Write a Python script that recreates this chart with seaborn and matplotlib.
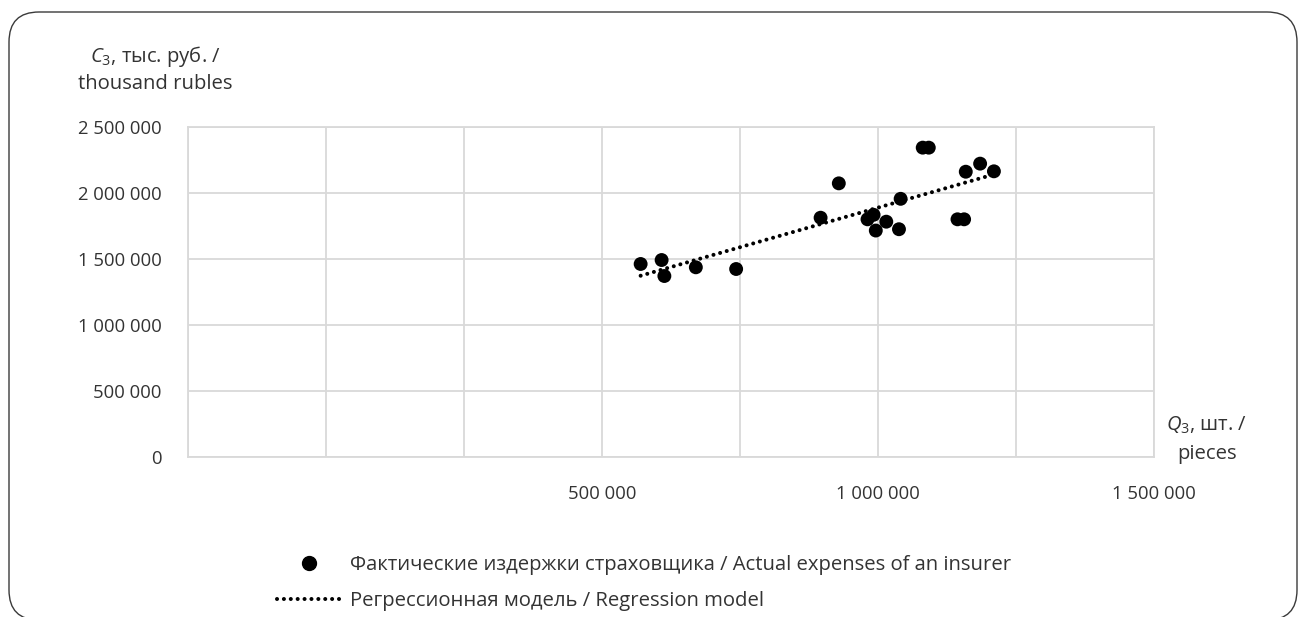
import numpy as np
import pandas as pd
import matplotlib
matplotlib.use("Agg")
import matplotlib.pyplot as plt
import seaborn as sns
from matplotlib.patches import FancyBboxPatch
from matplotlib.transforms import IdentityTransform
from matplotlib.lines import Line2D

# ---- data ----
q3 = [570000, 608000, 613000, 670000, 743000, 896000, 929000, 981000, 992000, 996000,
      1015000, 1038000, 1041000, 1081000, 1092000, 1144000, 1156000, 1159000, 1185000, 1210000]
c3 = [1460000, 1490000, 1369000, 1435000, 1422000, 1810000, 2070000, 1798000, 1832000, 1713000,
      1780000, 1723000, 1953000, 2340000, 2340000, 1798000, 1798000, 2158000, 2219000, 2161000]

x_ticks = [-250000, 0, 250000, 500000, 750000, 1000000, 1250000, 1500000]
x_tick_labels = ["", "", "", "500 000", "", "1 000 000", "", "1 500 000"]
y_ticks = [0, 500000, 1000000, 1500000, 2000000, 2500000]
y_tick_labels = ["0", "500 000", "1 000 000", "1 500 000", "2 000 000", "2 500 000"]

y_title = [r"$\mathit{C}_3$, тыс. руб. /", "thousand rubles"]
x_title = [r"$\mathit{Q}_3$, шт. /", "pieces"]
series_points = "Фактические издержки страховщика / Actual expenses of an insurer"
series_model = "Регрессионная модель / Regression model"

# ---- style ----
sns.set_style("white")
plt.rcParams["font.family"] = ["Open Sans", "DejaVu Sans"]
plt.rcParams["mathtext.fontset"] = "custom"
plt.rcParams["mathtext.rm"] = "Open Sans"
plt.rcParams["mathtext.it"] = "Open Sans:italic"

TXT = "#333333"
GRID = "#d9d9d9"
FS = 13.3
FS_T = 14.6

W, H = 1307, 617
fig = plt.figure(figsize=(W / 100, H / 100), dpi=100)
fig.patch.set_facecolor("white")

ax = fig.add_axes([188 / W, (H - 457) / H, (1154 - 188) / W, (457 - 126.5) / H])

df = pd.DataFrame({"Q3": q3, "C3": c3})
dot_style = dict(color="black", lw=2.9, linestyle=(0, (0.01, 1.7)), dash_capstyle="round")

sns.regplot(data=df, x="Q3", y="C3", scatter=False, ci=None, ax=ax, line_kws=dot_style)
sns.scatterplot(data=df, x="Q3", y="C3", s=100, color="black", edgecolor="none",
                ax=ax, zorder=3, legend=False)

ax.set_xlim(x_ticks[0], x_ticks[-1])
ax.set_ylim(y_ticks[0], y_ticks[-1])
ax.set_xticks(x_ticks)
ax.set_xticklabels(x_tick_labels)
ax.set_yticks(y_ticks)
ax.set_yticklabels(y_tick_labels)
ax.tick_params(axis="x", length=0, pad=20, labelsize=FS, colors=TXT)
ax.tick_params(axis="y", length=0, pad=19, labelsize=FS, colors=TXT)
ax.set_xlabel("")
ax.set_ylabel("")
ax.grid(True, color=GRID, lw=1.3)
ax.set_axisbelow(True)
for s in ax.spines.values():
    s.set_visible(True)
    s.set_color(GRID)
    s.set_linewidth(1.3)

# axis titles
fig.text(155 / W, 1 - 62 / H, y_title[0], ha="center", va="baseline", fontsize=FS_T, color=TXT)
fig.text(155 / W, 1 - 89 / H, y_title[1], ha="center", va="baseline", fontsize=FS_T, color=TXT)
fig.text(1207 / W, 1 - 431 / H, x_title[0], ha="center", va="baseline", fontsize=FS_T, color=TXT)
fig.text(1207 / W, 1 - 459 / H, x_title[1], ha="center", va="baseline", fontsize=FS_T, color=TXT)

# legend
handles = [
    Line2D([], [], marker="o", ls="none", color="black", markersize=10),
    Line2D([], [], **dot_style),
]
fig.legend(handles, [series_points, series_model], loc="upper left",
           bbox_to_anchor=(277 / W, 1 - 555 / H), frameon=False, fontsize=FS_T,
           handlelength=3.2, handletextpad=0.4, labelspacing=0.8,
           borderaxespad=0, borderpad=0, labelcolor=TXT)

# rounded outer frame
frame = FancyBboxPatch((9, -3), 1288, 608, boxstyle="round,pad=0,rounding_size=30",
                       transform=IdentityTransform(), fill=False, ec="#3a3a3a", lw=1.0)
fig.add_artist(frame)

fig.savefig("out.png", dpi=100, facecolor="white")
